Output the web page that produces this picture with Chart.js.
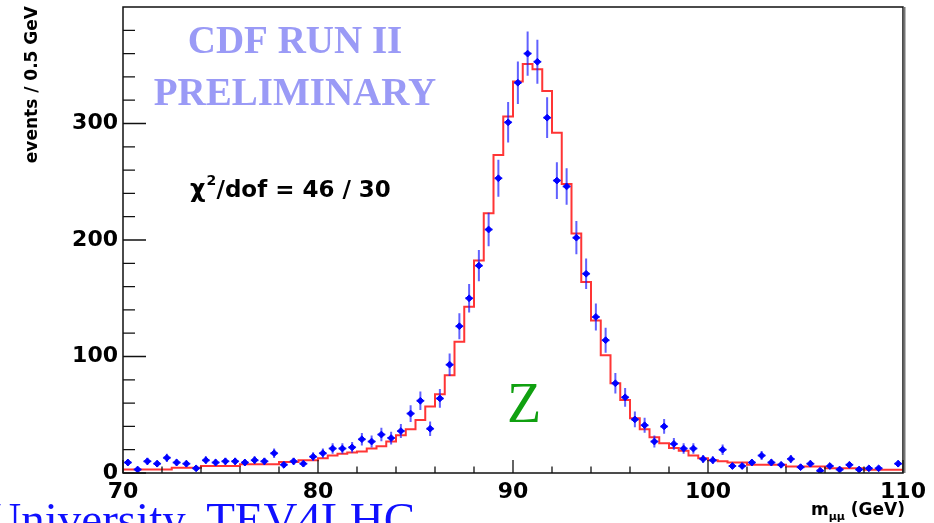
<!DOCTYPE html>
<html>
<head>
<meta charset="utf-8">
<script src="https://cdn.jsdelivr.net/npm/chart.js@4.4.1/dist/chart.umd.min.js"></script>
<style>
  html, body { margin: 0; padding: 0; background: #fff; overflow: hidden; }
</style>
</head>
<body>
<canvas id="chart" width="934" height="523"></canvas>
<script>
// Dimuon invariant mass, 0.5 GeV bins between 70 and 110 GeV
const massMin = 70;
const massMax = 110;
const binWidth = 0.5;

// observed events per bin (null = empty bin, not drawn)
const events = [
   9,   3,  10,   8,  13,   9,   8,   4,  11,   9,
  10,  10,   9,  11,  10,  17,   7,  10,   8,  14,
  17,  21,  21,  22,  29,  27,  33,  30,  36,  51,
  62,  38,  64,  93, 126, 150, 178, 209, 253, 301,
 335, 360, 353, 305, 251, 246, 202, 171, 134, 114,
  77,  65,  46,  41,  27,  40,  25,  21,  21,  12,
  11,  20,   6,   6,   9,  15,   9,   7,  12,   5,
   8,   2,   6,   3,   7,   3,   4,   4, null,  8
];

// fitted line shape per bin
const fitShape = [
   3,   3,   3,   3,   3, 4.5, 4.5, 4.5,   6,   6,
   6,   6, 7.5, 7.5, 7.5, 7.5, 9.5, 9.5,  11,  11,
 12.6, 15, 16.5, 17.5, 18.5, 21, 23,  27, 32.5, 37.5,
 45.5, 57, 67.7, 84, 112.7, 142.7, 182.5, 223, 273, 306,
 336, 351, 346.5, 328, 292, 248, 205.5, 164, 131, 101,
  77, 62.7, 47, 37.5, 30.6, 25.5, 21.5, 19,  15, 12.6,
  11,  10,   9,   9,   7,   7,   7,   7, 5.5, 5.5,
 5.5, 5.5,   4,   4,   4,   4, 2.8, 2.8, 2.8, 2.8
];

const xTickLabels = [70, 80, 90, 100, 110];
const yTickLabels = [0, 100, 200, 300];

const sansBold = '"DejaVu Sans", "Liberation Sans", sans-serif';
const serif = '"Liberation Serif", "Times New Roman", serif';

const pointData = [];
events.forEach((v, i) => {
    if (v !== null) pointData.push({ x: massMin + binWidth * (i + 0.5), y: v });
});

// step line: one point per left bin edge, plus the closing edge
const fitData = fitShape.map((v, i) => ({ x: massMin + binWidth * i, y: v }));
fitData.push({ x: massMax, y: fitShape[fitShape.length - 1] });

// sqrt(N) error bars behind the markers
const errorBars = {
    id: 'errorBars',
    beforeDatasetDraw(chart, args) {
        if (args.index !== 0) return;
        const { ctx, scales: { x, y } } = chart;
        ctx.save();
        ctx.strokeStyle = 'rgba(30, 30, 255, 0.7)';
        ctx.lineWidth = 2;
        pointData.forEach(p => {
            const err = Math.sqrt(p.y);
            const px = x.getPixelForValue(p.x);
            ctx.beginPath();
            ctx.moveTo(px, y.getPixelForValue(p.y - err));
            ctx.lineTo(px, y.getPixelForValue(p.y + err));
            ctx.moveTo(x.getPixelForValue(p.x - 0.2), y.getPixelForValue(p.y));
            ctx.lineTo(x.getPixelForValue(p.x + 0.2), y.getPixelForValue(p.y));
            ctx.stroke();
        });
        ctx.restore();
    }
};

// frame, inward ticks and all the free text
const decorations = {
    id: 'decorations',
    afterDraw(chart) {
        const { ctx, chartArea: a, scales: { x, y } } = chart;
        ctx.save();

        ctx.strokeStyle = '#111';
        ctx.lineWidth = 1.5;
        ctx.strokeRect(a.left, a.top, a.right - a.left, a.bottom - a.top);
        ctx.strokeStyle = '#777';
        ctx.lineWidth = 2;
        ctx.beginPath();
        ctx.moveTo(a.right + 1.5, a.top);
        ctx.lineTo(a.right + 1.5, a.bottom);
        ctx.stroke();

        ctx.strokeStyle = '#111';
        ctx.lineWidth = 1.3;
        ctx.beginPath();
        for (let v = massMin; v <= massMax; v += 2) {
            const px = x.getPixelForValue(v);
            const len = v % 10 === 0 ? 13 : 6.5;
            ctx.moveTo(px, a.bottom);
            ctx.lineTo(px, a.bottom - len);
        }
        for (let v = 0; v < 400; v += 20) {
            const py = y.getPixelForValue(v);
            const len = v % 100 === 0 ? 23 : 12;
            ctx.moveTo(a.left, py);
            ctx.lineTo(a.left + len, py);
        }
        ctx.stroke();

        // y title, right-justified at the top of the axis
        ctx.fillStyle = '#000';
        ctx.save();
        ctx.translate(37, 6);
        ctx.rotate(-Math.PI / 2);
        ctx.font = 'bold 17px ' + sansBold;
        ctx.textAlign = 'right';
        ctx.textBaseline = 'alphabetic';
        ctx.fillText('events / 0.5 GeV', 0, 0);
        ctx.restore();

        // x title with subscript
        ctx.textBaseline = 'alphabetic';
        ctx.textAlign = 'left';
        ctx.font = 'bold 17px ' + sansBold;
        const tail = ' (GeV)';
        const tailW = ctx.measureText(tail).width;
        ctx.font = 'bold 11px ' + sansBold;
        const subW = ctx.measureText('\u03bc\u03bc').width;
        ctx.font = 'bold 17px ' + sansBold;
        const mW = ctx.measureText('m').width;
        let tx = 905 - tailW - subW - mW;
        ctx.fillText('m', tx, 515);
        ctx.font = 'bold 11px ' + sansBold;
        ctx.fillText('\u03bc\u03bc', tx + mW, 520);
        ctx.font = 'bold 17px ' + sansBold;
        ctx.fillText(tail, tx + mW + subW, 515);

        // preliminary stamp
        ctx.fillStyle = '#9a9af6';
        ctx.font = 'bold 39px ' + serif;
        ctx.textAlign = 'center';
        ctx.fillText('CDF RUN II', 295, 53);
        ctx.fillText('PRELIMINARY', 295, 105);

        // fit quality
        ctx.fillStyle = '#000';
        ctx.textAlign = 'left';
        ctx.font = 'bold 24px ' + sansBold;
        ctx.fillText('\u03c7', 190, 197);
        const chiW = ctx.measureText('\u03c7').width;
        ctx.font = 'bold 14px ' + sansBold;
        ctx.fillText('2', 190 + chiW + 1, 185);
        ctx.font = 'bold 23px ' + sansBold;
        ctx.fillText('/dof = 46 / 30', 190 + chiW + 11, 197);

        ctx.fillStyle = '#10a010';
        ctx.font = '56px ' + serif;
        ctx.textAlign = 'center';
        ctx.fillText('Z', 524, 422);

        ctx.fillStyle = '#1010ff';
        ctx.font = '47px ' + serif;
        ctx.textAlign = 'right';
        ctx.fillText('University, TEV4LHC', 415, 535);

        ctx.restore();
    }
};

new Chart(document.getElementById('chart'), {
    type: 'scatter',
    data: {
        datasets: [
            {
                label: 'data',
                data: pointData,
                pointStyle: 'rectRot',
                pointRadius: 3.4,
                backgroundColor: '#0000ff',
                borderColor: '#0000ff',
                borderWidth: 1,
                showLine: false
            },
            {
                label: 'fit',
                type: 'line',
                data: fitData,
                stepped: 'before',
                borderColor: '#ff3535',
                borderWidth: 2,
                pointRadius: 0,
                fill: false
            }
        ]
    },
    options: {
        responsive: false,
        animation: false,
        events: [],
        layout: { padding: { top: 7, right: 31, left: 0, bottom: 0 } },
        plugins: { legend: { display: false }, tooltip: { enabled: false } },
        scales: {
            x: {
                type: 'linear',
                min: massMin,
                max: massMax,
                grid: { display: false, drawTicks: false },
                border: { display: false },
                afterBuildTicks: s => { s.ticks = xTickLabels.map(v => ({ value: v })); },
                ticks: {
                    padding: 6,
                    maxRotation: 0,
                    color: '#000',
                    font: { family: sansBold, weight: 'bold', size: 22 }
                },
                afterFit: s => { s.height = 50; s.paddingLeft = 0; s.paddingRight = 0; }
            },
            y: {
                min: 0,
                max: 400,
                grid: { display: false, drawTicks: false },
                border: { display: false },
                afterBuildTicks: s => { s.ticks = yTickLabels.map(v => ({ value: v })); },
                ticks: {
                    padding: 5,
                    color: '#000',
                    font: { family: sansBold, weight: 'bold', size: 22 }
                },
                afterFit: s => { s.width = 123; s.paddingTop = 0; s.paddingBottom = 0; }
            }
        }
    },
    plugins: [errorBars, decorations]
});
</script>
</body>
</html>
